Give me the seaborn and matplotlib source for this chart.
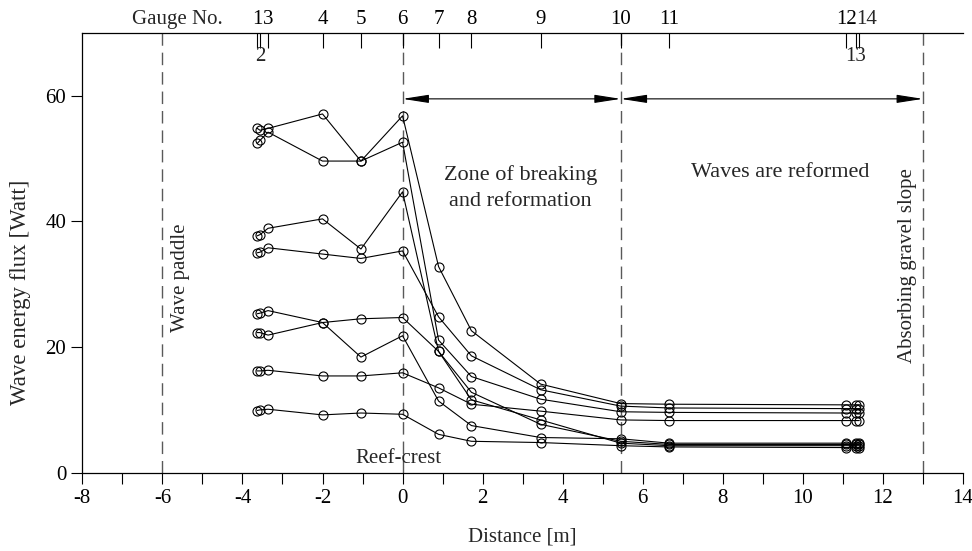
import matplotlib
matplotlib.use("Agg")
import matplotlib.pyplot as plt
import pandas as pd
import seaborn as sns

# gauge positions along the flume [m]
gauge_x = [-3.63, -3.56, -3.36, -2.0, -1.04, 0.0, 0.9, 1.72, 3.45, 5.45, 6.66, 11.09, 11.32, 11.41]
gauge_top = ["1", "", "3", "4", "5", "6", "7", "8", "9", "10", "11", "12", "", ""]

# wave energy flux [Watt] at each gauge, one list per test run
run_a = [54.8, 54.5, 54.8, 57.1, 49.6, 56.8, 32.8, 22.6, 14.1, 11.0, 10.9, 10.8, 10.8, 10.8]
run_b = [52.4, 52.9, 54.2, 49.6, 49.6, 52.6, 21.1, 15.3, 11.7, 9.7, 9.6, 9.5, 9.5, 9.5]
run_c = [37.7, 37.9, 38.9, 40.4, 35.6, 44.7, 19.3, 12.8, 7.7, 5.0, 4.5, 4.5, 4.5, 4.5]
run_d = [35.0, 35.1, 35.8, 34.8, 34.1, 35.3, 24.8, 18.6, 13.2, 10.6, 10.3, 10.2, 10.2, 10.2]
run_e = [25.3, 25.4, 25.8, 23.9, 24.5, 24.7, 19.3, 11.6, 8.4, 4.7, 4.3, 4.3, 4.3, 4.3]
run_f = [22.3, 22.3, 21.9, 23.9, 18.4, 21.8, 11.4, 7.5, 5.6, 5.4, 4.7, 4.7, 4.7, 4.7]
run_g = [16.2, 16.2, 16.3, 15.4, 15.4, 15.9, 13.5, 10.9, 9.8, 8.4, 8.3, 8.3, 8.3, 8.3]
run_h = [9.9, 10.0, 10.1, 9.2, 9.5, 9.3, 6.1, 5.0, 4.8, 4.3, 4.1, 4.0, 4.0, 4.0]

runs = {"a": run_a, "b": run_b, "c": run_c, "d": run_d,
        "e": run_e, "f": run_f, "g": run_g, "h": run_h}

df = pd.concat(
    [pd.DataFrame({"run": k, "distance": gauge_x, "flux": v}) for k, v in runs.items()],
    ignore_index=True,
)

sns.set_theme(style="ticks")
plt.rcParams["font.family"] = ["Liberation Serif", "DejaVu Serif"]
plt.rcParams["axes.unicode_minus"] = False

fig = plt.figure(figsize=(9.72, 5.51), dpi=100)
ax = fig.add_axes([0.0847, 0.1421, 0.9060, 0.7982])

sns.lineplot(
    data=df, x="distance", y="flux", units="run", estimator=None, sort=False,
    color="black", lw=0.8, marker="o", markersize=6.5, mfc="none",
    markeredgecolor="black", markeredgewidth=0.8, legend=False, ax=ax,
)

# structure markers
for xv in [-6, 0, 5.45, 13]:
    ax.axvline(xv, color="0.35", lw=1.0, ls=(0, (9, 5)), zorder=0)

arrow = dict(arrowstyle="<|-|>,head_length=1.6,head_width=0.25",
             color="black", lw=0.8, shrinkA=0, shrinkB=0, mutation_scale=10)
ax.annotate("", xy=(0, 59.5), xytext=(5.45, 59.5), arrowprops=arrow)
ax.annotate("", xy=(5.45, 59.5), xytext=(13, 59.5), arrowprops=arrow)

ax.text(2.94, 45.3, "Zone of breaking\nand reformation", ha="center", va="center",
        fontsize=16, linespacing=1.45)
ax.text(9.43, 47.8, "Waves are reformed", ha="center", va="center", fontsize=16)
ax.text(-0.1, 2.3, "Reef-crest", ha="center", va="center", fontsize=15)
ax.text(-5.55, 31, "Wave paddle", rotation=90, ha="center", va="center", fontsize=15)
ax.text(12.62, 33, "Absorbing gravel slope", rotation=90, ha="center", va="center", fontsize=15)

ax.set_xlim(-8, 14)
ax.set_ylim(0, 70)
ax.set_xticks(range(-8, 15, 2))
ax.set_xticks(range(-8, 15), minor=True)
ax.set_yticks([0, 20, 40, 60])
ax.tick_params(axis="both", which="major", direction="out", length=8, width=0.8,
               labelsize=15, color="black", labelcolor="black")
ax.tick_params(axis="x", which="minor", direction="out", length=8, width=0.8, color="black")
ax.set_xlabel("Distance [m]", fontsize=15, labelpad=14)
ax.set_ylabel("Wave energy flux [Watt]", fontsize=16.5)
ax.yaxis.set_label_coords(-0.058, 0.41)
ax.spines["right"].set_visible(False)
for s in ["left", "bottom", "top"]:
    ax.spines[s].set_color("black")
    ax.spines[s].set_linewidth(0.9)

# gauge numbers along the top
top = ax.secondary_xaxis("top")
top.set_xticks(gauge_x, gauge_top)
top.tick_params(direction="in", length=11, width=0.8, labelsize=15, pad=3,
                color="black", labelcolor="black")
top.spines["top"].set_visible(False)
xtop = ax.get_xaxis_transform()
ax.annotate("Gauge No.", xy=(-4.5, 1.0), xycoords=xtop, xytext=(0, 3),
            textcoords="offset points", ha="right", va="bottom", fontsize=15)
ax.annotate("14", xy=(11.33, 1.0), xycoords=xtop, xytext=(0, 3),
            textcoords="offset points", ha="left", va="bottom", fontsize=15)
ax.text(gauge_x[1], 66.3, "2", ha="center", va="center", fontsize=15)
ax.text(gauge_x[12], 66.3, "13", ha="center", va="center", fontsize=15)

fig.savefig("out.png", dpi=100)
